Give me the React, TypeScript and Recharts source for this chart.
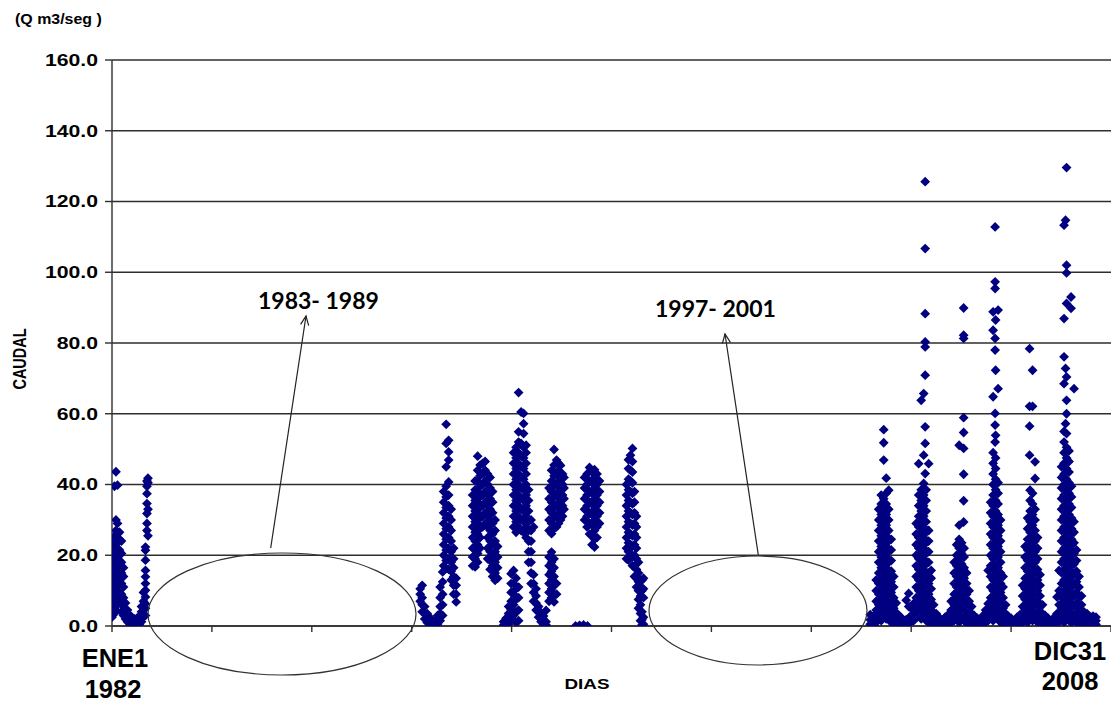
import { ScatterChart, Scatter, XAxis, YAxis, CartesianGrid } from "recharts";

// Caudal diario (Q m3/seg). Cada fila: [dia desde ENE1 1982, caudal, caudal, ...]
const caudal1982 = [
  [0, 2.5, 5, 8, 10.5, 13, 15.5, 18, 21, 24],
  [25, 3.5, 6.5, 9.5, 12, 14.5, 17, 19.5, 22.5, 25.5, 39.5],
  [40, 4.5, 7, 10, 13, 16, 19, 22, 25, 27, 30, 43.6],
  [55, 6, 9, 11.5, 14, 17, 20, 23.5, 26, 29, 39.8],
  [75, 7, 9.5, 12.5, 15.5, 18.5, 21.5, 24.5, 26.5],
  [95, 4, 6.5, 9, 12, 15, 18, 20.5, 24],
  [115, 3, 5.5, 8, 11, 14, 16.5],
  [135, 2, 4, 6.5],
  [155, 1.2, 2.8, 4.5],
  [175, 0.7, 1.8, 3.2],
  [200, 0.4, 1.3, 2.4],
  [225, 0.3, 1, 2],
  [250, 0.3, 1.1, 2.2],
  [275, 0.5, 1.5, 2.8],
  [295, 1.2, 2.5, 4, 5.5],
  [315, 2.5, 4.5, 7, 9.5],
  [335, 3, 5, 6.3, 8.2, 10.1, 12, 13.9, 15.7, 18.6, 21.4, 22.3],
  [350, 27, 29, 31.8, 34.6, 37.4, 39.5, 41],
  [360, 40.5, 41.8, 33, 25.5],
];

const caudal1990a1992 = [
  [3085, 7, 9, 10.5],
  [3105, 4, 6, 8, 11.5],
  [3130, 2, 3.5, 5.5],
  [3155, 1, 2.2, 3.5],
  [3180, 0.5, 1.5, 2.5],
  [3205, 0.3, 1.2],
  [3230, 0.4, 1.3],
  [3260, 0.6, 1.8, 3],
  [3285, 1.5, 3.5, 5.5, 8, 11],
  [3310, 3, 6, 9, 12.5, 15.3],
  [3320, 17, 20, 23, 26, 29, 32, 35, 38],
  [3345, 18.5, 21.5, 24.5, 27.5, 30.5, 33.5, 36.5, 39.5, 45, 51.6, 57],
  [3370, 16, 19, 22, 25, 28, 31, 34, 37, 40.7, 46.9, 49.2, 52.5],
  [3395, 13, 15.5, 18, 21, 24, 27, 30, 33],
  [3420, 9, 11.5, 14, 16.5, 19, 22],
  [3445, 6.8, 9, 11.5, 13.5],
  [3610, 17, 19.5, 22, 25, 28, 31, 34, 37],
  [3635, 16.7, 19, 21.5, 24, 26.5, 29.5, 32.5, 35.5, 38.5, 41],
  [3660, 18, 20.5, 23, 26, 29, 32, 35, 38, 41, 44, 48],
  [3685, 22, 25, 27.5, 30.5, 33.5, 36.5, 39.5, 42.5, 45.5],
  [3710, 28, 31, 34, 37, 40, 43, 46],
  [3735, 29, 32, 35, 38, 41, 44, 46.5],
  [3760, 19, 22, 25, 28, 31, 34, 37, 40, 43],
  [3785, 16, 18.5, 21, 24, 27, 30, 33, 36, 39, 42],
  [3810, 14, 17, 20, 23, 26, 29, 32, 35, 38],
  [3835, 12.9, 15, 18, 21, 24, 27, 30],
  [3860, 13.5, 16.5, 19.5, 22.5],
  [3920, 0.3, 1.2],
  [3945, 0.2, 1, 2.2],
  [3970, 0.5, 1.8, 3.5, 5.5],
  [3995, 2, 4.5, 7, 9.5, 12, 14.8],
  [4020, 3, 6, 9, 12, 15.7, 28, 31, 34, 37, 40, 43, 46, 49],
  [4045, 1, 4, 7.5, 10.5, 13.5, 26.5, 29.5, 32.5, 35.5, 38.5, 41.5, 44.5, 47.5, 50.5],
  [4070, 1.5, 4.5, 8, 11, 28, 31, 34, 37, 40, 43, 46, 49, 52, 54.9, 66],
  [4095, 27, 30, 33, 36, 39, 42, 45, 48, 51.6, 60.5],
  [4120, 26.5, 29.5, 32.5, 35.5, 38.5, 41.5, 44.5, 47.5, 50.5, 54.4, 57.2, 60.1],
  [4145, 25, 28, 31, 34, 37, 40, 43, 46, 49, 51.1],
  [4170, 18, 21, 24, 27, 29.5, 32.5, 35.5, 38.5],
  [4195, 12, 15, 18, 21, 24, 27, 30],
  [4220, 7, 9.5, 12, 14.5, 28],
  [4245, 4.5, 6.5, 8.5, 10.5],
  [4270, 2.5, 4, 5.5],
  [4295, 1.2, 2.5, 3.8],
  [4320, 0.5, 1.5, 2.8],
  [4345, 0.3, 1.2, 4.4],
];

const caudal1993a1996 = [
  [4375, 7, 9.5, 12, 14.5, 17, 19.5, 27, 30, 33, 36, 39],
  [4400, 8, 10.5, 13, 15.5, 18, 20.9, 26.1, 29, 32, 35, 38, 41, 44],
  [4425, 6.8, 9, 11.5, 14, 16.5, 19, 27.5, 30.5, 33.5, 36.5, 39.5, 42.5, 45.5, 49.9],
  [4450, 9, 12, 28, 31, 34, 37, 40, 43, 46.9],
  [4470, 29, 32, 35, 38, 41, 44, 46],
  [4490, 30, 33, 36, 39, 42, 45.4],
  [4510, 31, 34, 37, 40, 43],
  [4525, 33, 36, 39, 42],
  [4640, 0],
  [4680, 0, 0.2],
  [4720, 0, 0.3],
  [4760, 0],
  [4730, 30, 33, 36, 39, 42],
  [4755, 28, 31, 34, 37, 40, 43],
  [4780, 26, 29, 32, 35, 38, 41, 44.8],
  [4805, 23, 25.5, 28.5, 31.5, 34.5, 37.5, 40.5, 43.5],
  [4830, 22.3, 24.5, 27, 30, 33, 36, 39, 42, 44.2],
  [4855, 25, 28, 31, 34, 37, 40, 43],
  [4880, 29, 32, 35, 38, 41],
  [5150, 19, 22, 25, 28, 31, 34, 37, 40],
  [5170, 18.6, 21, 23.5, 26.5, 29.5, 32.5, 35.5, 38.5, 41.5, 44.5, 47],
  [5190, 20, 23, 26, 29, 32, 35, 38, 41, 44, 48.3],
  [5210, 17, 19.5, 22.5, 25.5, 28.5, 31.5, 34.5, 37.5, 40.5, 43.5, 46.5, 50.2],
  [5230, 14, 17, 20, 23, 26, 29, 32, 35, 38],
  [5250, 11, 13.5, 16, 19, 22, 25, 28, 31],
  [5270, 5, 7.5, 10, 12.5, 15, 18],
  [5290, 1.5, 3.5, 6, 8.5, 11, 13],
  [5305, 0.3, 1.8, 4, 10, 12.9],
  [5320, 0.5, 2.5, 8, 10.5, 13.5],
];

const caudal2002a2004 = [
  [7590, 0.5, 1.8, 3.2],
  [7620, 0.4, 1.5, 2.8],
  [7650, 1, 2.5, 4.5, 7, 10, 13],
  [7675, 3, 6, 9, 12, 15, 18, 21, 24, 27, 30, 33],
  [7700, 1.5, 4.5, 7.5, 10.5, 13.5, 16.5, 19.5, 22.5, 25.5, 28.5, 31.5, 34.5, 37],
  [7725, 3, 6, 9, 12, 15, 18, 21, 24, 27, 30, 33, 36, 46.9, 51.8, 55.5],
  [7750, 2, 4.5, 7.5, 10.5, 13.5, 16.5, 19.5, 22.5, 25.5, 28.5, 31.5, 34.5, 37.5, 41.8],
  [7775, 3, 6, 9, 12, 15, 18, 21, 24, 27, 30, 33, 38.4],
  [7800, 1, 3.5, 6.5, 9.5, 12.5, 15.5, 18.5, 21.5, 24.5],
  [7825, 0.5, 2.5, 5, 8, 11, 14],
  [7850, 0.3, 1.8, 3.8, 6.5],
  [7875, 0.5, 1.5, 3],
  [7900, 0.3, 1.2, 2.4],
  [7925, 0.4, 1.5],
  [7950, 0.6, 1.8, 7.3],
  [7975, 0.8, 2.2, 5.5, 9.2],
  [8000, 1.2, 3, 5],
  [8025, 1.5, 3.5, 6.4],
  [8050, 2.5, 5, 8, 11, 14, 17, 20, 23, 26, 29],
  [8075, 4, 7, 10, 13, 16, 19, 22, 25, 28, 31, 34, 37, 45.9],
  [8100, 2, 5.5, 8.5, 11.5, 14.5, 17.5, 20.5, 23.5, 26.5, 29.5, 32.5, 35.5, 38.5, 63.8],
  [8125, 3.5, 7, 10, 13, 16, 19, 22, 25, 28, 31, 34, 37, 40.3, 48.3, 65.7],
  [8140, 43.1, 51.6, 56.3, 70.9, 78.9, 80.3, 88.3, 106.7, 125.6],
  [8150, 1.5, 4.5, 8, 11.5, 14.5, 17.5, 20.5, 23.5, 26.5, 29.5, 32.5, 35.5, 38.5],
  [8175, 1, 3, 6, 9, 12, 15, 18, 21, 24, 27, 45.9],
  [8200, 0.5, 2, 4.5, 7.5, 10.5, 13.5, 15.7],
  [8225, 0.3, 1.5, 3.5, 6],
  [8250, 0.4, 1.5, 3.5],
  [8280, 0.3, 1.2, 2.4],
  [8310, 0.5, 1.5],
  [8340, 0.3, 1.2, 2.5],
  [8370, 0.5, 1.8, 3.2],
  [8400, 1, 2.5, 4.5, 7],
];

const caudal2005a2008 = [
  [8430, 1.5, 3.5, 6, 9, 12, 15, 18],
  [8455, 2.5, 5, 8, 11, 14, 17, 20, 23],
  [8480, 1, 4, 7, 10, 13, 16, 19, 22, 24.5, 28.5, 51.1],
  [8505, 2.5, 5.5, 8.5, 11.5, 14.5, 17.5, 20.5, 23.5],
  [8525, 29.4, 35.4, 42.9, 50.2, 54.7, 58.9, 81.3, 82.2, 89.9],
  [8530, 1.5, 4.5, 7.5, 10.5, 13.5, 16.5, 19.5, 22],
  [8555, 0.8, 3, 6, 9, 12, 15],
  [8580, 0.4, 1.8, 4, 7, 10],
  [8605, 0.3, 1.5, 3.5, 5.5],
  [8630, 0.5, 1.5, 3],
  [8660, 0.3, 1.2, 2.2],
  [8690, 0.4, 1.5],
  [8720, 0.5, 1.8, 3],
  [8745, 1, 2.5, 4.5],
  [8770, 1.5, 3.5, 6.3, 15.7],
  [8795, 2.5, 5, 8, 11, 14, 17, 20, 23, 26, 29, 32, 35],
  [8820, 1.5, 4, 7, 10, 13, 16, 19, 22, 25, 28, 31, 34, 37, 40, 43, 46, 49, 64.8, 83.6, 88.8],
  [8840, 52, 56.8, 60.1, 78, 81.3, 95.4, 97.3, 112.8],
  [8845, 3, 5.5, 8.5, 11.5, 14.5, 17.5, 20.5, 23.5, 26.5, 29.5, 32.5, 35.5, 38.5, 41.5, 44.5, 47.5, 53.9, 72.3, 86.5],
  [8870, 2, 4.5, 7.5, 10.5, 13.5, 16.5, 19.5, 22.5, 25.5, 28.5, 31.5, 34.5, 37.5, 40.5, 67.1, 89.3],
  [8895, 1, 3.5, 6.5, 9.5, 12, 15, 18, 21, 24, 27, 30],
  [8920, 0.5, 2.5, 5, 8, 11, 14],
  [8945, 0.3, 1.5, 3.5, 6],
  [8970, 0.4, 1.5, 2.8],
  [9000, 0.3, 1.2, 2.2],
  [9030, 0.5, 1.5],
  [9060, 0.3, 1.3, 2.5],
  [9090, 0.5, 1.8, 3.2],
  [9115, 1, 3, 5.5, 8.5, 11.5],
  [9140, 2, 4.5, 7.5, 10.5, 13.5, 16.5, 19.5, 22.5],
  [9165, 1, 3.5, 6.5, 9.5, 12.5, 15.5, 18.5, 21.5, 24.5, 27.5, 30.5],
  [9185, 48.3, 56.5, 62.1, 78.4],
  [9190, 2.5, 5.5, 8.5, 11.5, 14.5, 17.5, 20.5, 23.5, 26.5, 29.5, 32.5, 35.5, 38.4],
  [9215, 1.5, 4.5, 7.5, 10.5, 13.5, 16.5, 19.5, 22.5, 25.5, 28.5, 31.5, 34.5, 37.5, 62.1, 72.3],
  [9240, 3, 6, 9, 12, 15, 18, 21, 24, 27, 30, 33, 41.7, 46.4],
  [9265, 1, 4, 7, 10, 13, 16, 19, 22, 25],
  [9290, 0.5, 2.5, 5.5, 8.5, 11.5, 14.5],
  [9315, 0.3, 1.5, 3.5, 6],
  [9340, 0.5, 1.5, 3],
  [9370, 0.3, 1.2, 2.2],
  [9400, 0.4, 1.4],
  [9430, 0.3, 1.2, 2.4],
  [9460, 0.6, 1.8, 3.5, 8.2],
  [9480, 1.5, 3.5, 6, 10, 15.7],
  [9505, 2.5, 5, 8.2, 12, 15, 18, 21, 24, 27, 30, 33, 36, 39, 42, 45],
  [9530, 1, 4, 7, 10, 13, 16, 19, 22, 25, 28, 31, 34, 37, 40, 43, 46, 49, 52, 55, 68.5, 76.1, 86.9, 113.3],
  [9545, 57.2, 72.8, 114.7],
  [9555, 2.5, 5.5, 8.5, 11.5, 14.5, 17.5, 20.5, 23.5, 26.5, 29.5, 32.5, 35.5, 38.5, 41.5, 44.5, 47.5, 50.5, 54.4, 60, 63.8, 70.4, 91.2, 99.8, 102, 129.6],
  [9580, 1.5, 4.5, 7.5, 10.5, 13.5, 16.5, 19.5, 22.5, 25.5, 28.5, 31.5, 34.5, 37.5, 40.5, 43.5, 46.5, 49.5],
  [9600, 89.8, 93],
  [9605, 1, 3.5, 6.5, 9.5, 12.5, 15.5, 18.5, 21.5, 24.5, 27.5, 30.5, 33.5, 36.5, 39.5],
  [9630, 2.5, 5.5, 8.5, 11.5, 14.5, 17.5, 20.5, 23.5, 26.5, 29.5, 67.1],
  [9655, 1, 3.5, 6.5, 9.5, 12.5, 15.5, 18.5, 21.5],
  [9680, 0.5, 2.5, 5, 8, 11, 14],
  [9705, 0.3, 1.5, 3.5, 6, 8.5],
  [9730, 0.5, 2, 4],
  [9760, 0.3, 1.5, 3.5],
  [9790, 0.4, 1.3, 2.5],
  [9820, 0.5, 1.6, 2.8],
  [9850, 0.4, 1.5, 2.5],
];

const ticksDias = [0, 1000, 2000, 3000, 4000, 5000, 6000, 7000, 8000, 9000, 10000];
const ticksCaudal = [0, 20, 40, 60, 80, 100, 120, 140, 160];

const puntos = [
  ...caudal1982,
  ...caudal1990a1992,
  ...caudal1993a1996,
  ...caudal2002a2004,
  ...caudal2005a2008,
].flatMap(([dia, ...valores]) => valores.map((caudal) => ({ dia, caudal })));

const AZUL = "#000080";
const LINEA = "#2e2e2e";
const ARIAL = "'Liberation Sans', Arial, sans-serif";

// rombo de Excel, tamaño fijo
function Rombo(props: any) {
  const { cx, cy } = props;
  const r = 4.9;
  return (
    <path
      d={`M${cx},${cy - r}L${cx + r},${cy}L${cx},${cy + r}L${cx - r},${cy}Z`}
      fill={AZUL}
    />
  );
}

function TickCaudal(props: any) {
  const { x, y, payload } = props;
  return (
    <text
      transform={`translate(${x},${y}) scale(1.3,1)`}
      textAnchor="end"
      dy="0.355em"
      fontSize={16.3}
      fontWeight="bold"
      fontFamily={ARIAL}
      fill="#000"
    >
      {Number(payload.value).toFixed(1)}
    </text>
  );
}

function Flecha({ x1, y1, x2, y2 }: { x1: number; y1: number; x2: number; y2: number }) {
  const ang = Math.atan2(y2 - y1, x2 - x1);
  const len = 10;
  const a1 = ang + Math.PI - 0.42;
  const a2 = ang + Math.PI + 0.42;
  return (
    <g stroke="#222" strokeWidth={1.2} fill="none">
      <line x1={x1} y1={y1} x2={x2} y2={y2} />
      <path
        d={`M${x2 + len * Math.cos(a1)},${y2 + len * Math.sin(a1)}L${x2},${y2}L${x2 + len * Math.cos(a2)},${y2 + len * Math.sin(a2)}`}
      />
    </g>
  );
}

export default function App() {
  return (
    <div style={{ position: "absolute", left: 0, top: 0, width: 1111, height: 702, background: "#fff" }}>
      <ScatterChart
        width={1111}
        height={702}
        margin={{ top: 60, right: 0, bottom: 0, left: 0 }}
        style={{ fontFamily: ARIAL }}
      >
        <CartesianGrid vertical={false} stroke={LINEA} strokeWidth={1.4} />
        <XAxis
          type="number"
          dataKey="dia"
          domain={[0, 10000]}
          ticks={ticksDias}
          height={76}
          tickSize={6}
          tick={() => <g />}
          axisLine={{ stroke: LINEA, strokeWidth: 1.4 }}
          tickLine={{ stroke: LINEA, strokeWidth: 1.4 }}
          allowDataOverflow
        />
        <YAxis
          type="number"
          dataKey="caudal"
          domain={[0, 160]}
          ticks={ticksCaudal}
          width={112}
          tickSize={7}
          tickMargin={7}
          tick={<TickCaudal />}
          axisLine={{ stroke: LINEA, strokeWidth: 1.4 }}
          tickLine={{ stroke: LINEA, strokeWidth: 1.4 }}
          allowDataOverflow
        />
        <Scatter data={puntos} shape={Rombo} isAnimationActive={false} />
      </ScatterChart>

      <svg
        width={1111}
        height={702}
        style={{ position: "absolute", left: 0, top: 0, pointerEvents: "none" }}
      >
        <text
          transform="translate(15,23.5) scale(1.14,1)"
          fontSize={14}
          fontWeight="bold"
          fontFamily={ARIAL}
          fill="#000"
        >
          (Q m3/seg )
        </text>
        <text
          transform="translate(26,359) scale(1.3,1) rotate(-90)"
          textAnchor="middle"
          fontSize={14.5}
          fontWeight="bold"
          fontFamily={ARIAL}
          fill="#000"
        >
          CAUDAL
        </text>
        <text
          transform="translate(587,689) scale(1.3,1)"
          textAnchor="middle"
          fontSize={14.5}
          fontWeight="bold"
          fontFamily={ARIAL}
          fill="#000"
        >
          DIAS
        </text>
        <g fontSize={25.5} fontWeight="bold" fontFamily={ARIAL} fill="#000" textAnchor="middle">
          <text x={115} y={667}>ENE1</text>
          <text x={113} y={698}>1982</text>
          <text x={1070} y={660}>DIC31</text>
          <text x={1070} y={690}>2008</text>
        </g>

        <ellipse cx={282} cy={614} rx={134} ry={61} fill="none" stroke="#333" strokeWidth={1.2} />
        <ellipse cx={758} cy={610.5} rx={109} ry={54.5} fill="none" stroke="#333" strokeWidth={1.2} />
        <Flecha x1={270.7} y1={548} x2={306} y2={316} />
        <Flecha x1={758.3} y1={555} x2={725} y2={334} />
        <g fontSize={23} fontWeight="bold" fontFamily="Lato, 'Liberation Sans', sans-serif" fill="#000">
          <text x={258} y={309}>1983- 1989</text>
          <text x={655} y={317}>1997- 2001</text>
        </g>
      </svg>
    </div>
  );
}
